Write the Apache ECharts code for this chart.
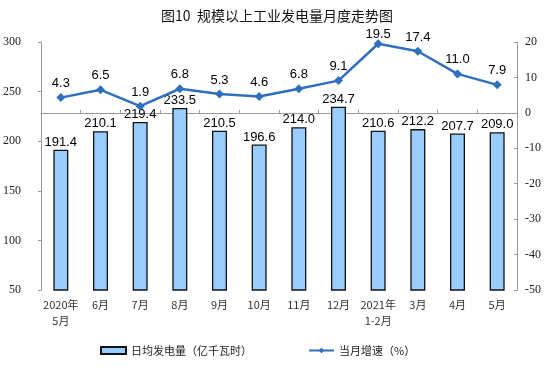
<!DOCTYPE html>
<html><head><meta charset="utf-8">
<script src="https://cdn.jsdelivr.net/npm/echarts@6/dist/echarts.min.js"></script>
<style>html,body{margin:0;padding:0;background:#fff}#c{width:554px;height:381px}</style>
</head><body><div id="c"></div>
<script>
const categories = ['2020年\n5月','6月','7月','8月','9月','10月','11月','12月','2021年\n1-2月','3月','4月','5月'];
const dailyOutput = [191.4,210.1,219.4,233.5,210.5,196.6,214.0,234.7,210.6,212.2,207.7,209.0];
const growth = [4.3,6.5,1.9,6.8,5.3,4.6,6.8,9.1,19.5,17.4,11.0,7.9];
const titleText = '图10  规模以上工业发电量月度走势图';
const barName = '日均发电量（亿千瓦时）';
const lineName = '当月增速（%）';

const maxIdx = growth.indexOf(Math.max(...growth));
const lineData = growth.map((v,i)=> i===maxIdx ? {value:v,label:{distance:-2}} : v);

const chart = echarts.init(document.getElementById('c'));
const axisFont = {fontFamily:'Liberation Serif', fontSize:12, color:'#222'};
chart.setOption({
  animation:false,
  title:{text:titleText,left:'center',top:4,textStyle:{fontFamily:'Noto Sans CJK SC',fontSize:14,fontWeight:'normal',color:'#111'}},
  grid:{left:38,right:37,top:42,bottom:91},
  legend:{left:95,top:340,itemGap:56,itemWidth:25,itemHeight:7,textStyle:{fontFamily:'Noto Sans CJK SC',fontSize:11,color:'#222'},
    data:[{name:barName,icon:'rect'},{name:lineName}]},
  xAxis:{type:'category',data:categories,
    axisLine:{lineStyle:{color:'#999'}},
    axisTick:{show:true,length:3,inside:true,lineStyle:{color:'#999'}},
    axisLabel:{fontFamily:'Noto Sans CJK SC',fontSize:11,color:'#333',margin:7,lineHeight:16,interval:0}},
  yAxis:[
    {type:'value',min:50,max:300,interval:50,splitLine:{show:false},
     axisLine:{show:true,lineStyle:{color:'#999'}},axisTick:{show:true,length:3,lineStyle:{color:'#999'}},
     axisLabel:Object.assign({margin:20},axisFont)},
    {type:'value',min:-50,max:20,interval:10,splitLine:{show:false},
     axisLine:{show:true,lineStyle:{color:'#999'}},axisTick:{show:true,inside:true,length:3,lineStyle:{color:'#999'}},
     axisLabel:Object.assign({margin:8},axisFont)}
  ],
  series:[
    {name:barName,type:'bar',data:dailyOutput,barWidth:15,yAxisIndex:0,
     itemStyle:{color:'#99CCFF',borderColor:'#111',borderWidth:1.3},
     label:{show:true,position:'top',distance:1,fontFamily:'Liberation Sans',fontSize:13,color:'#000',formatter:p=>p.value.toFixed(1)}},
    {name:lineName,type:'line',data:lineData,yAxisIndex:1,symbol:'diamond',symbolSize:9,
     lineStyle:{color:'#2E6FC0',width:2.5},itemStyle:{color:'#2E6FC0'},
     label:{show:true,position:'top',distance:3,fontFamily:'Liberation Sans',fontSize:13,color:'#000',formatter:p=>Number(p.value).toFixed(1)}}
  ]
});
</script></body></html>
